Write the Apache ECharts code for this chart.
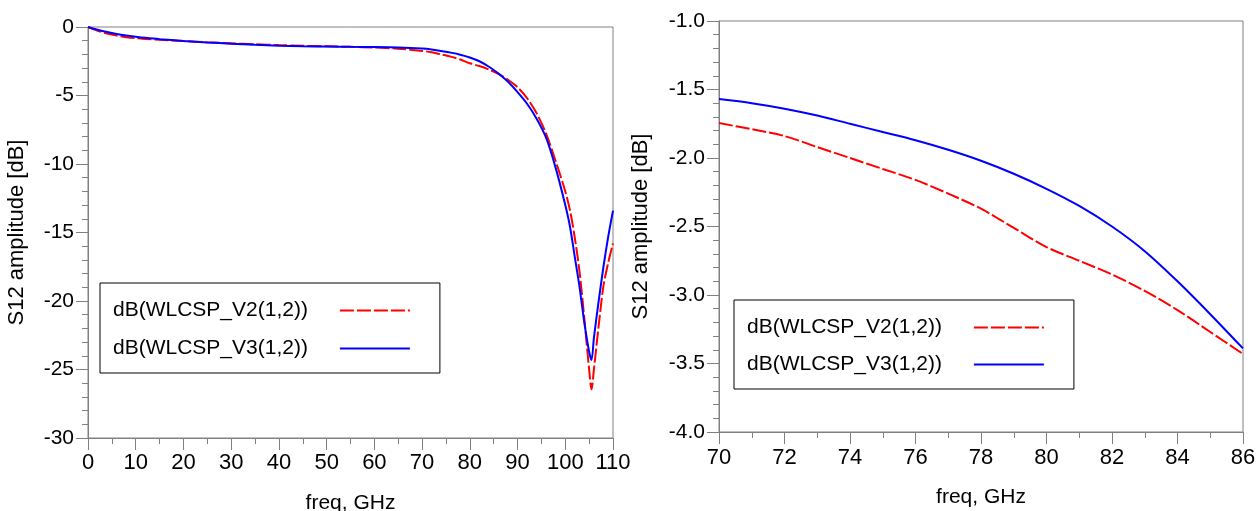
<!DOCTYPE html>
<html><head><meta charset="utf-8">
<script src="https://cdn.jsdelivr.net/npm/echarts@6/dist/echarts.min.js"></script>
<style>html,body{margin:0;padding:0;background:#fff}#c{width:1256px;height:511px}</style>
</head><body><div id="c"></div>
<script>
const NAME_V2 = 'dB(WLCSP_V2(1,2))';
const NAME_V3 = 'dB(WLCSP_V3(1,2))';

// Left panel: full band 0..110 GHz
const freqL = [0,2,4,6,8,10,12,15,20,25,30,35,40,45,50,55,60,65,70,72,74,76,78,80,82,84,86,88,90,92,94,96,98,100,101,102,103,104,105,105.5,106,107,108,109,110];
const v2L = [0,-0.27,-0.48,-0.63,-0.74,-0.82,-0.87,-0.93,-1.03,-1.12,-1.19,-1.26,-1.32,-1.37,-1.41,-1.45,-1.50,-1.58,-1.745,-1.84,-2.00,-2.16,-2.37,-2.65,-2.85,-3.11,-3.43,-3.85,-4.4,-5.2,-6.3,-7.8,-9.8,-12.0,-13.4,-15.4,-17.9,-21.3,-25.0,-26.45,-25.0,-21.8,-18.9,-17.2,-15.8];
const v3L = [0,-0.20,-0.37,-0.51,-0.62,-0.71,-0.79,-0.89,-1.02,-1.13,-1.22,-1.30,-1.36,-1.40,-1.43,-1.45,-1.46,-1.49,-1.57,-1.64,-1.75,-1.87,-2.02,-2.225,-2.50,-2.90,-3.39,-4.0,-4.75,-5.6,-6.7,-8.1,-10.3,-13.0,-14.6,-16.8,-19.0,-21.6,-23.7,-24.3,-22.7,-20.0,-17.5,-15.3,-13.4];

// Right panel: zoom 70..86 GHz
const freqR = [70,71,72,73,74,75,76,77,78,79,80,81,82,83,84,85,86];
const v2R = [-1.745,-1.79,-1.84,-1.92,-2.00,-2.08,-2.16,-2.26,-2.37,-2.51,-2.65,-2.75,-2.85,-2.97,-3.11,-3.27,-3.43];
const v3R = [-1.57,-1.60,-1.64,-1.69,-1.75,-1.81,-1.87,-1.94,-2.02,-2.115,-2.225,-2.35,-2.50,-2.68,-2.90,-3.14,-3.39];

const gray = '#808080';
const FF = '"Liberation Sans", Arial, sans-serif';

function xAx(gi, min, max, interval, nameGap, labelMargin) {
  return {
    type: 'value', gridIndex: gi, min: min, max: max, interval: interval,
    name: 'freq, GHz', nameLocation: 'middle', nameGap: nameGap,
    nameTextStyle: {fontSize: 21, color: '#000', fontFamily: FF},
    axisLine: {show: true, onZero: false, lineStyle: {color: gray, width: 1}},
    axisTick: {show: true, inside: false, length: 12, lineStyle: {color: gray, width: 1}},
    minorTick: {show: true, splitNumber: 2, length: 6, lineStyle: {color: gray, width: 1}},
    splitLine: {show: false}, minorSplitLine: {show: false},
    axisLabel: {margin: labelMargin, fontSize: 22, color: '#000', fontFamily: FF}
  };
}
function yAx(gi, min, max, interval, nameGap, fmt) {
  return {
    type: 'value', gridIndex: gi, min: min, max: max, interval: interval,
    name: 'S12 amplitude [dB]', nameLocation: 'middle', nameGap: nameGap,
    nameTextStyle: {fontSize: 22, color: '#000', fontFamily: FF},
    axisLine: {show: true, onZero: false, lineStyle: {color: gray, width: 1}},
    axisTick: {show: true, inside: false, length: 12, lineStyle: {color: gray, width: 1}},
    minorTick: {show: true, splitNumber: 5, length: 6, lineStyle: {color: gray, width: 1}},
    splitLine: {show: false}, minorSplitLine: {show: false},
    axisLabel: {margin: 14, fontSize: 21, color: '#000', fontFamily: FF, formatter: fmt}
  };
}
function pts(fs, vs) { return fs.map((f, i) => [f, vs[i]]); }
function ser(name, gi, data, color, dash) {
  return {
    type: 'line', name: name, xAxisIndex: gi, yAxisIndex: gi, data: data,
    symbol: 'circle', symbolSize: 0, showSymbol: false, smooth: 0.3,
    lineStyle: {color: color, width: 2, type: dash},
    itemStyle: {color: color}, emphasis: {disabled: true}
  };
}
function leg(left, top, gap) {
  return {
    left: left, top: top, orient: 'vertical', align: 'right',
    data: [NAME_V2, NAME_V3],
    itemWidth: 70, itemHeight: 20, itemGap: gap,
    padding: [17, 29, 14, 13],
    borderColor: '#000', borderWidth: 1, backgroundColor: '#fff',
    selectedMode: false,
    itemStyle: {color: 'rgba(0,0,0,0)', borderWidth: 0, opacity: 0},
    textStyle: {fontSize: 21, color: '#000', fontFamily: FF, padding: [0, 27, 0, 0]}
  };
}

const chart = echarts.init(document.getElementById('c'), null, {renderer: 'canvas'});
chart.setOption({
  animation: false,
  backgroundColor: '#fff',
  grid: [
    {left: 88, top: 27, width: 525, height: 411, show: true, borderColor: gray, borderWidth: 1, backgroundColor: 'transparent', containLabel: false, outerBoundsMode: 'none'},
    {left: 719, top: 21, width: 524, height: 411, show: true, borderColor: gray, borderWidth: 1, backgroundColor: 'transparent', containLabel: false, outerBoundsMode: 'none'}
  ],
  xAxis: [xAx(0, 0, 110, 10, 55, 14), xAx(1, 70, 86, 2, 55, 15)],
  yAxis: [yAx(0, -30, 0, 5, 60, v => String(v)), yAx(1, -4, -1, 0.5, 67, v => v.toFixed(1))],
  legend: [leg(100, 283, 17), leg(734, 300, 16)],
  series: [
    ser(NAME_V2, 0, pts(freqL, v2L), '#ff0000', [14, 3]),
    ser(NAME_V3, 0, pts(freqL, v3L), '#0000ff', 'solid'),
    ser(NAME_V2, 1, pts(freqR, v2R), '#ff0000', [14, 3]),
    ser(NAME_V3, 1, pts(freqR, v3R), '#0000ff', 'solid')
  ]
});
</script></body></html>
